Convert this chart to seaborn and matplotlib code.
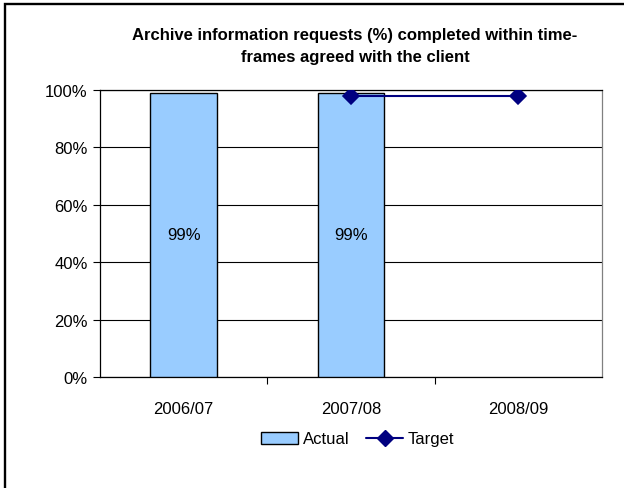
import matplotlib
matplotlib.use("Agg")
import matplotlib.pyplot as plt
import seaborn as sns
import pandas as pd
import numpy as np
from matplotlib.patches import Patch
from matplotlib.lines import Line2D
from matplotlib.ticker import FuncFormatter, FixedLocator

categories = ["2006/07", "2007/08", "2008/09"]
actual = [99, 99, np.nan]
target = [np.nan, 98, 98]
yticks = [0, 20, 40, 60, 80, 100]
title = "Archive information requests (%) completed within time-\nframes agreed with the client"

sns.set_theme(style="white")
plt.rcParams['font.family'] = ['Liberation Sans', 'DejaVu Sans']
plt.rcParams.update({"text.color": "black", "axes.labelcolor": "black",
                     "xtick.color": "black", "ytick.color": "black"})

W, H = 624, 489
fig = plt.figure(figsize=(W / 100, H / 100), dpi=100)
ax = fig.add_axes([100 / W, 1 - 378 / H, (602 - 100) / W, (378 - 91) / H])

df = pd.DataFrame({"cat": categories, "Actual": actual, "Target": target})

sns.barplot(data=df, x="cat", y="Actual", order=categories, color="#99CCFF",
            saturation=1, width=0.4, edgecolor="black", linewidth=1.0, ax=ax, zorder=3)
sns.pointplot(data=df, x="cat", y="Target", order=categories, color="#000080",
              markers="D", linestyles="-", errorbar=None, ax=ax,
              markersize=8.5, linewidth=1.5, zorder=4)

for i, v in enumerate(actual):
    if not np.isnan(v):
        ax.text(i, v / 2, f"{v:.0f}%", ha="center", va="center", fontsize=12,
                color="black", zorder=5)

ax.set_xlim(-0.5, 2.5)
ax.set_ylim(0, 100)
ax.set_yticks(yticks)
ax.yaxis.set_major_formatter(FuncFormatter(lambda v, p: f"{v:.0f}%"))
ax.grid(axis="y", color="black", linewidth=0.8, zorder=0)
ax.set_axisbelow(True)
ax.set_xlabel("")
ax.set_ylabel("")
ax.tick_params(axis="y", which="major", length=5, width=0.8, color="black",
               labelsize=12, direction="out", left=True, pad=4)
ax.tick_params(axis="x", which="major", length=0, labelsize=12, pad=17)
ax.xaxis.set_minor_locator(FixedLocator([0.5, 1.5]))
ax.tick_params(axis="x", which="minor", length=5, width=0.8, color="black",
               direction="out", bottom=True)
for s in ["left", "bottom", "top"]:
    ax.spines[s].set_color("black")
    ax.spines[s].set_linewidth(0.9)
ax.spines["right"].set_color("#808080")
ax.spines["right"].set_linewidth(0.9)

fig.text(355 / W, 1 - 46.5 / H, title, ha="center", va="center",
         fontsize=12, fontweight="bold", linespacing=1.6)

handles = [Patch(facecolor="#99CCFF", edgecolor="black", linewidth=1.0, label="Actual"),
           Line2D([], [], color="#000080", marker="D", markersize=8.5, linewidth=1.5, label="Target")]
fig.legend(handles=handles, loc="center", bbox_to_anchor=(358 / W, 1 - 440 / H), ncol=2,
           frameon=False, fontsize=12, handlelength=2.2, handletextpad=0.3,
           columnspacing=1.0, borderpad=0.1)

# outer chart frame (only left and top edges are visible in the reference)
fig.add_artist(Line2D([5 / W, 5 / W, 1.0], [0.0, 1 - 5 / H, 1 - 5 / H],
                      transform=fig.transFigure, color="black", linewidth=1.7,
                      solid_joinstyle="miter"))

fig.savefig("out.png", dpi=100)
